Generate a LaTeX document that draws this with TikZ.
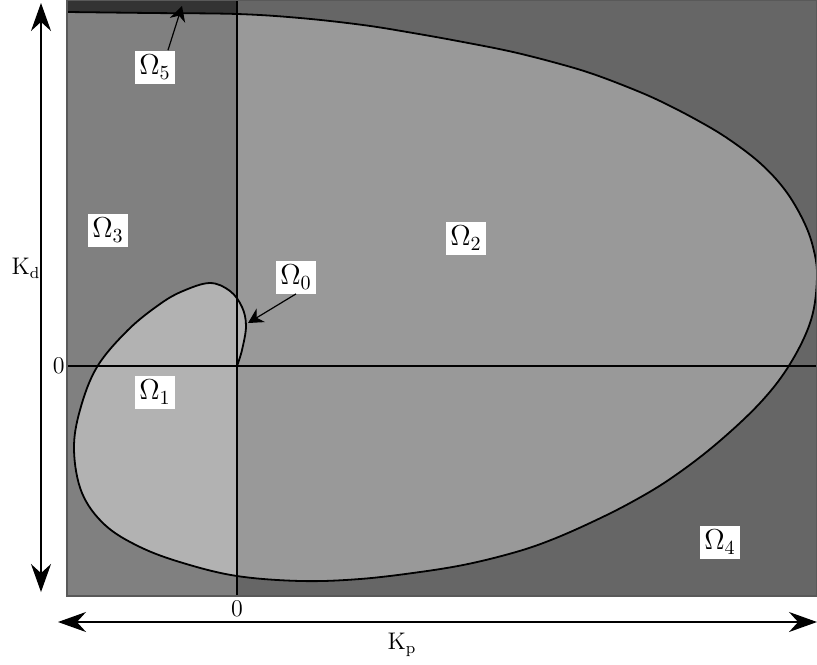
\documentclass[tikz,border=0pt]{standalone}
\usepackage{xcolor}
\usepackage{amsmath}
\usepackage{tikz}
\usetikzlibrary{arrows.meta}

\definecolor{omfive}{gray}{0.2}
\definecolor{omfour}{gray}{0.4}
\definecolor{omthree}{gray}{0.5}
\definecolor{omtwo}{gray}{0.6}
\definecolor{omone}{gray}{0.7}

\begin{document}
\begin{tikzpicture}[x=0.5pt,y=-0.5pt,
  every node/.style={font=\fontsize{12}{14}\selectfont},
  region/.style={fill=white,inner sep=0pt,minimum width=20pt,minimum height=16.5pt,
    font=\fontsize{14}{16}\selectfont},
  axis/.style={line width=0.6pt,{Stealth[length=14pt,width=10pt]}-{Stealth[length=14pt,width=10pt]}},
  pointer/.style={line width=0.6pt,-{Stealth[length=7.5pt,width=8pt]}},
  boundary/.style={line width=0.9pt}]
\useasboundingbox (0,0) rectangle (817,664);
\coordinate (tl) at (67,0);
\coordinate (br) at (817,596);
\coordinate (O) at (237,366);
\coordinate (xl) at (67,366);
\coordinate (xr) at (817,366);
\coordinate (yt) at (237,0);
\coordinate (yb) at (237,596);
\coordinate (vtop) at (41,3);
\coordinate (vbot) at (41,592);
\coordinate (hleft) at (58,622);
\coordinate (hright) at (817,622);
\coordinate (t5) at (182,6);
\coordinate (t0) at (248,323);
% regions
\fill[omfour] (tl) rectangle (br);
\fill[omthree] (tl) rectangle (yb);
\fill[omfive] (tl) -- (yt) -- (237,14) -- (67,12) -- cycle;
\fill[omtwo] plot[smooth,tension=0.6] coordinates {(237,576) (301,581) (360,579) (420,572)
  (468,564) (516,552) (551,540) (590,523) (630,503) (670,479) (715,445) (760,403) (790,364)
  (811,320) (817,277) (813,247) (803,220) (785,190) (760,163) (727,138) (695,119) (660,101)
  (630,88) (593,74) (560,64) (513,52) (463,42) (413,33) (363,25) (300,18) (237,14)} -- cycle;
\fill[omone] plot[smooth,tension=0.6] coordinates {(237,366) (242,350) (246,326) (242,307)
  (230,291) (210,283) (183,291) (160,304) (128,330) (97,367) (80,410) (74,450) (82,493)
  (105,525) (140,547) (183,563) (237,576)} -- cycle;
% boundary curve
\draw[boundary] plot[smooth,tension=0.6] coordinates {(237,366) (242,350) (246,326) (242,307)
  (230,291) (210,283) (183,291) (160,304) (128,330) (97,367) (80,410) (74,450) (82,493)
  (105,525) (140,547) (183,563) (237,576) (301,581) (360,579) (420,572) (468,564) (516,552)
  (551,540) (590,523) (630,503) (670,479) (715,445) (760,403) (790,364) (811,320) (817,277)
  (813,247) (803,220) (785,190) (760,163) (727,138) (695,119) (660,101) (630,88) (593,74)
  (560,64) (513,52) (463,42) (413,33) (363,25) (300,18) (237,14) (150,13) (67,12)};
\draw[line width=1pt] (xl) -- (xr);
\draw[line width=1pt] (yt) -- (yb);
\draw[black!65,line width=0.6pt] (tl) rectangle (br);
% axes
\draw[axis] (vtop) -- (vbot);
\draw[axis] (hleft) -- (hright);
\node (kd) at (26,268) {K$_\mathrm{d}$};
\node (kp) at (402,645) {K$_\mathrm{p}$};
\node[left,inner sep=1pt] (zy) at (xl) {0};
\node[below,inner sep=2pt] (zx) at (yb) {0};
% labels
\node[region] (o5) at (155,67) {$\Omega_5$};
\node[region] (o3) at (108,230) {$\Omega_3$};
\node[region] (o2) at (466,238) {$\Omega_2$};
\node[region] (o0) at (296,277) {$\Omega_0$};
\node[region] (o1) at (155,392) {$\Omega_1$};
\node[region] (o4) at (720,542) {$\Omega_4$};
\draw[pointer] ([xshift=6.5pt]o5.north) -- (t5);
\draw[pointer] (o0.south) -- (t0);
\end{tikzpicture}
\end{document}
